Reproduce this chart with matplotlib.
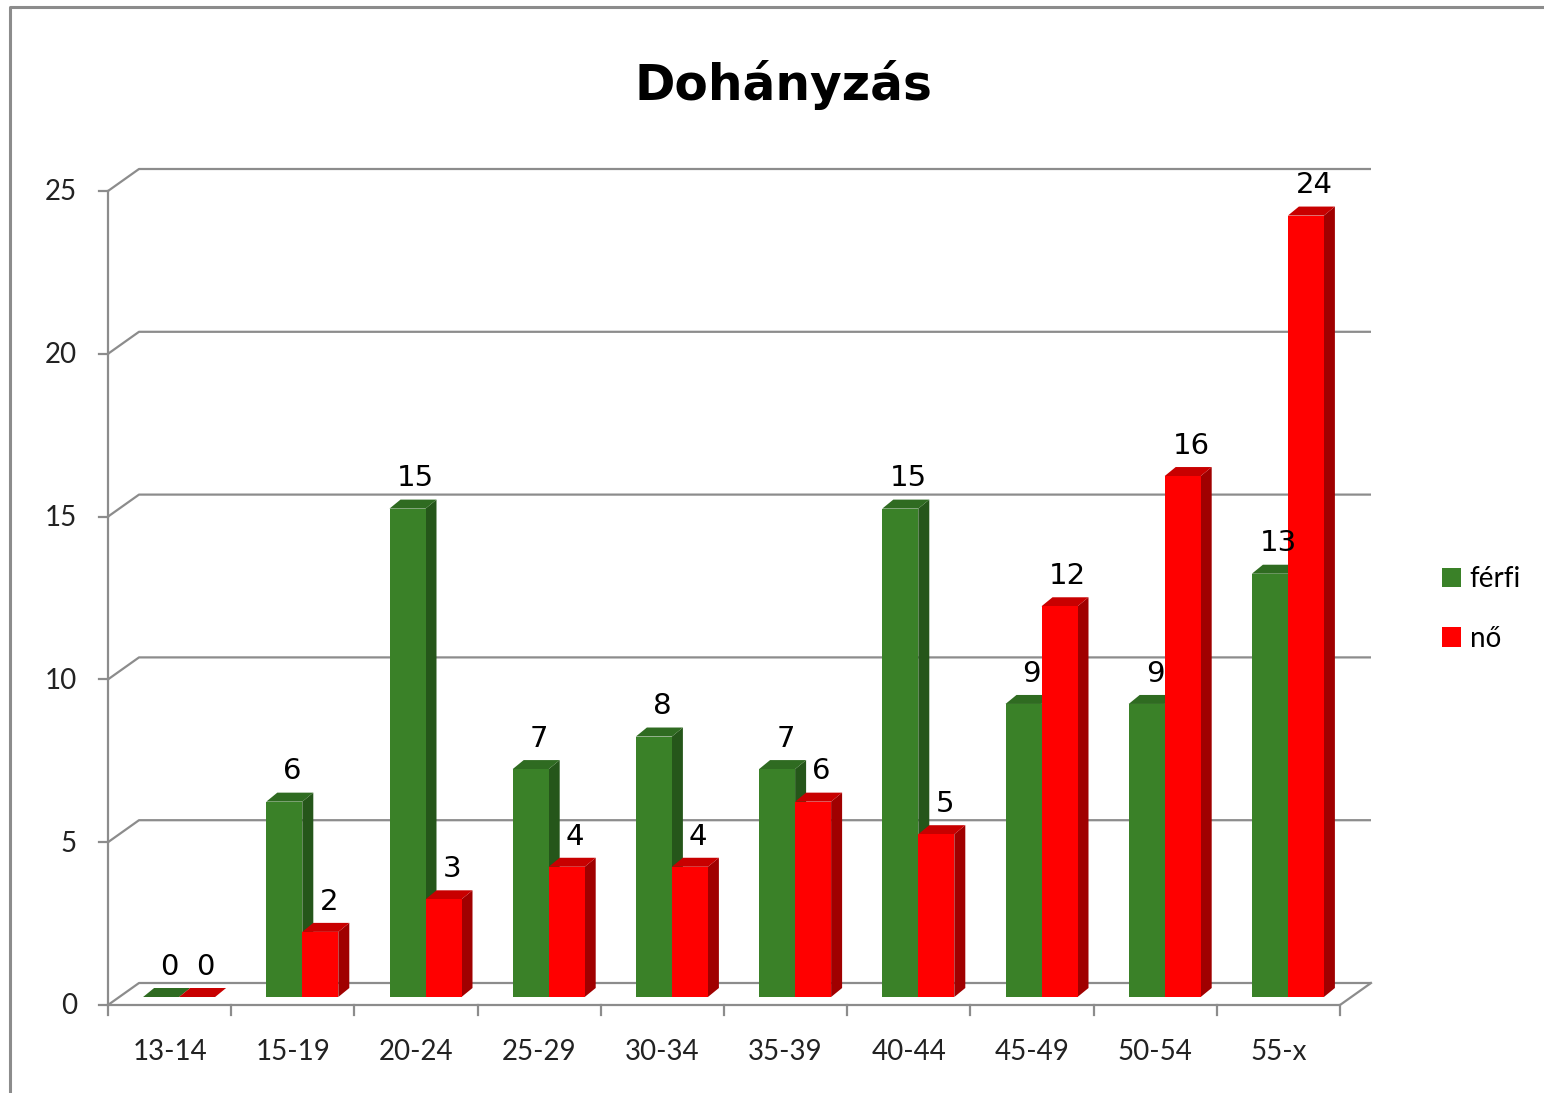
import matplotlib
matplotlib.use("Agg")
import matplotlib.pyplot as plt
from matplotlib.patches import Polygon, Rectangle, Patch
from matplotlib.lines import Line2D

# ---- data ----
categories = ["13-14", "15-19", "20-24", "25-29", "30-34", "35-39", "40-44", "45-49", "50-54", "55-x"]
ferfi = [0, 6, 15, 7, 8, 7, 15, 9, 9, 13]
no = [0, 2, 3, 4, 4, 6, 5, 12, 16, 24]
series_names = ["férfi", "nő"]
yticks = [0, 5, 10, 15, 20, 25]
title = "Dohányzás"

W, H = 1544, 1093
fig = plt.figure(figsize=(W / 100, H / 100), dpi=100)
fig.patch.set_facecolor("white")

# axes: front plane x 0..10 -> px 108..1340, y 0..25 -> px 1005..191
L, R, B, T = 108, 1340, 1005, 191
ax = fig.add_axes([L / W, (H - B) / H, (R - L) / W, (B - T) / H])
n = len(categories)
ax.set_xlim(0, n)
ax.set_ylim(0, 25)
ax.axis("off")

pxx = (R - L) / n        # px per x unit
pxy = (B - T) / 25.0     # px per y unit

DX, DY = 31 / pxx, 22 / pxy          # back wall offset
BX, BY = 9.5 / pxx, 8 / pxy          # bar base offset
BW = 36 / pxx                        # bar width
DDX, DDY = 11 / pxx, 9 / pxy         # bar depth

grid_c = "#8c8c8c"
lw = 1.6

# back wall gridlines + side diagonals
for v in yticks:
    ax.add_line(Line2D([0, DX, n + DX], [v, v + DY, v + DY], color=grid_c, lw=lw,
                       clip_on=False, solid_capstyle="butt", zorder=1))
# floor front + right diagonal
ax.add_line(Line2D([0, n, n + DX], [0, 0, DY], color=grid_c, lw=lw, clip_on=False, zorder=1))
# front vertical axis
ax.add_line(Line2D([0, 0], [0, 25], color=grid_c, lw=lw, clip_on=False, zorder=1))
# y ticks
for v in yticks:
    ax.add_line(Line2D([-9 / pxx, 0], [v, v], color=grid_c, lw=lw, clip_on=False, zorder=1))
    ax.annotate(str(v), (0, v), xytext=(-31 / 1.389, -1), textcoords="offset points",
                ha="right", va="center", fontsize=20, family="Lato", color="#222222")
# x ticks
for i in range(n + 1):
    ax.add_line(Line2D([i, i], [0, -10 / pxy], color=grid_c, lw=lw, clip_on=False, zorder=1))
for i, c in enumerate(categories):
    ax.annotate(c, (i + 0.5, 0), xytext=(0, -47 / 1.389), textcoords="offset points",
                ha="center", va="center", fontsize=20, family="Lato", color="#222222")

colors = {
    0: ("#3a8128", "#25561a", "#2f6b21"),
    1: ("#ff0000", "#a00000", "#c80000"),
}

def bar3d(x0, v, cols):
    front, side, top = cols
    y0 = BY
    ax.add_patch(Polygon([(x0 + BW, y0), (x0 + BW + DDX, y0 + DDY),
                          (x0 + BW + DDX, y0 + v + DDY), (x0 + BW, y0 + v)],
                         closed=True, fc=side, ec="none", clip_on=False, zorder=3))
    ax.add_patch(Polygon([(x0, y0 + v), (x0 + DDX, y0 + v + DDY),
                          (x0 + BW + DDX, y0 + v + DDY), (x0 + BW, y0 + v)],
                         closed=True, fc=top, ec="none", clip_on=False, zorder=3))
    if v > 0:
        ax.add_patch(Rectangle((x0, y0), BW, v, fc=front, ec="none", clip_on=False, zorder=3))
    ax.annotate(str(v), (x0 + BW / 2, y0 + v), xytext=(6, 16), textcoords="offset points",
                ha="center", va="baseline", fontsize=21, family="DejaVu Sans",
                color="black", zorder=5)

for i in range(n):
    c = i + 0.5 + BX
    bar3d(c - BW, ferfi[i], colors[0])
    bar3d(c, no[i], colors[1])

# title
fig.text(783 / W, 1 - 100 / H, title, ha="center", va="baseline", fontsize=35,
         fontweight="bold", family="DejaVu Sans", color="black")

# legend
handles = [Patch(fc=colors[0][0], ec="none"), Patch(fc=colors[1][0], ec="none")]
fig.legend(handles, series_names, loc="center left",
           bbox_to_anchor=(1442 / W, 1 - 609 / H), frameon=False,
           prop={"family": "Lato", "size": 20}, handlelength=0.7, handleheight=0.7,
           handletextpad=0.3, labelspacing=1.2, borderaxespad=0, borderpad=0)

# outer border
fig.add_artist(Line2D([10 / W, 10 / W, 1.0], [0, 1 - 7 / H, 1 - 7 / H],
                      transform=fig.transFigure, color="#8c8c8c", lw=2.2))

fig.savefig("out.png", dpi=100, facecolor="white")
